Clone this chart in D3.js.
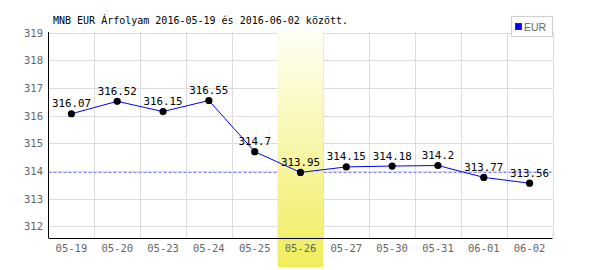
<!DOCTYPE html>
<html>
<head>
<meta charset="utf-8">
<script src="https://cdn.jsdelivr.net/npm/d3@7"></script>
<style>
  body { margin: 0; background: #fff; }
  svg { display: block; }
</style>
</head>
<body>
<svg id="chart" width="600" height="270"></svg>
<script>
// chart data
const days = ["05-19", "05-20", "05-23", "05-24", "05-25", "05-26", "05-27", "05-30", "05-31", "06-01", "06-02"];
const rates = [316.07, 316.52, 316.15, 316.55, 314.7, 313.95, 314.15, 314.18, 314.2, 313.77, 313.56];
const yTicks = [312, 313, 314, 315, 316, 317, 318, 319];
const highlightDay = "05-26";
const seriesName = "EUR";
const title = "MNB EUR Árfolyam 2016-05-19 és 2016-06-02 között.";

const mono = "'DejaVu Sans Mono', monospace";
const svg = d3.select("#chart");

const plotLeft = 48.5, plotRight = 552.5, plotTop = 32, plotBottom = 238;

var x = d3.scaleBand().domain(days).range([plotLeft, plotRight]).padding(0);
var y = d3.scaleLinear().domain([311.58, 319]).range([plotBottom, 32.7]);

// gradient for highlighted day
const defs = svg.append("defs");
const grad = defs.append("linearGradient")
  .attr("id", "hl")
  .attr("x1", 0).attr("y1", 0).attr("x2", 0).attr("y2", 1);
grad.append("stop").attr("offset", "0%").attr("stop-color", "#fffff4");
grad.append("stop").attr("offset", "100%").attr("stop-color", "#f0ed5c");

// grid
const grid = svg.append("g").attr("stroke", "#dcdcdc").attr("stroke-width", 1);
grid.selectAll(".h")
  .data(yTicks)
  .enter()
  .append("line")
  .attr("x1", plotLeft).attr("x2", plotRight)
  .attr("y1", (d) => Math.round(y(d)) + 0.5)
  .attr("y2", (d) => Math.round(y(d)) + 0.5);
grid.selectAll(".v")
  .data(days)
  .enter()
  .append("line")
  .attr("x1", (d) => Math.round(x(d) + x.bandwidth()) + 0.5)
  .attr("x2", (d) => Math.round(x(d) + x.bandwidth()) + 0.5)
  .attr("y1", plotTop).attr("y2", plotBottom);

// dashed reference line at highlighted value
const hlValue = rates[days.indexOf(highlightDay)];
svg.append("line")
  .attr("x1", plotLeft).attr("x2", plotRight)
  .attr("y1", Math.round(y(hlValue)) + 0.5)
  .attr("y2", Math.round(y(hlValue)) + 0.5)
  .attr("stroke", "#7f7fff")
  .attr("stroke-dasharray", "3,2");

// highlight band
svg.append("rect")
  .attr("x", x(highlightDay))
  .attr("y", plotTop)
  .attr("width", x.bandwidth())
  .attr("height", 267 - plotTop)
  .attr("fill", "url(#hl)");

// axes
svg.append("line")
  .attr("x1", plotLeft).attr("x2", plotLeft)
  .attr("y1", plotTop).attr("y2", plotBottom)
  .attr("stroke", "#000");
svg.append("line")
  .attr("x1", plotLeft).attr("x2", plotRight)
  .attr("y1", plotBottom + 0.5).attr("y2", plotBottom + 0.5)
  .attr("stroke", "#000");

svg.append("g")
  .selectAll("text")
  .data(yTicks)
  .enter()
  .append("text")
  .attr("x", 43)
  .attr("y", (d) => y(d) + 4)
  .attr("text-anchor", "end")
  .attr("font-family", mono)
  .attr("font-size", "10.5px")
  .attr("fill", "#666")
  .text((d) => d);

svg.append("g")
  .selectAll("text")
  .data(days)
  .enter()
  .append("text")
  .attr("x", (d) => x(d) + x.bandwidth() / 2)
  .attr("y", 252)
  .attr("text-anchor", "middle")
  .attr("font-family", mono)
  .attr("font-size", "10.5px")
  .attr("fill", "#666")
  .text((d) => d);

// series line
const pts = days.map((d, i) => ({ day: d, value: rates[i] }));
svg.append("path")
  .datum(pts)
  .attr("fill", "none")
  .attr("stroke", "#0000ff")
  .attr("stroke-width", 1)
  .attr("d", d3.line()
    .x((d) => x(d.day) + x.bandwidth() / 2)
    .y((d) => y(d.value)));

svg.append("g")
  .selectAll("circle")
  .data(pts)
  .enter()
  .append("circle")
  .attr("cx", (d) => x(d.day) + x.bandwidth() / 2)
  .attr("cy", (d) => y(d.value))
  .attr("r", 3.6)
  .attr("fill", "#000");

svg.append("g")
  .selectAll("text")
  .data(pts)
  .enter()
  .append("text")
  .attr("x", (d) => x(d.day) + x.bandwidth() / 2)
  .attr("y", (d) => y(d.value) - 6.5)
  .attr("text-anchor", "middle")
  .attr("font-family", mono)
  .attr("font-size", "10.8px")
  .attr("fill", "#000")
  .text((d) => d.value);

// title
svg.append("text")
  .attr("x", 53)
  .attr("y", 24)
  .attr("font-family", mono)
  .attr("font-size", "10px")
  .attr("fill", "#000")
  .text(title);

// legend
const legend = svg.append("g");
legend.append("rect")
  .attr("x", 511.5).attr("y", 16.5)
  .attr("width", 41).attr("height", 20)
  .attr("fill", "#fff")
  .attr("stroke", "#d0d0d0");
legend.append("rect")
  .attr("x", 515.5).attr("y", 23.5)
  .attr("width", 6).attr("height", 6)
  .attr("fill", "#0000ff")
  .attr("stroke", "#333");
legend.append("text")
  .attr("x", 524)
  .attr("y", 30.5)
  .attr("font-family", "'Liberation Sans', Arial, sans-serif")
  .attr("font-size", "10.5px")
  .attr("fill", "#666")
  .text(seriesName);
</script>
</body>
</html>
